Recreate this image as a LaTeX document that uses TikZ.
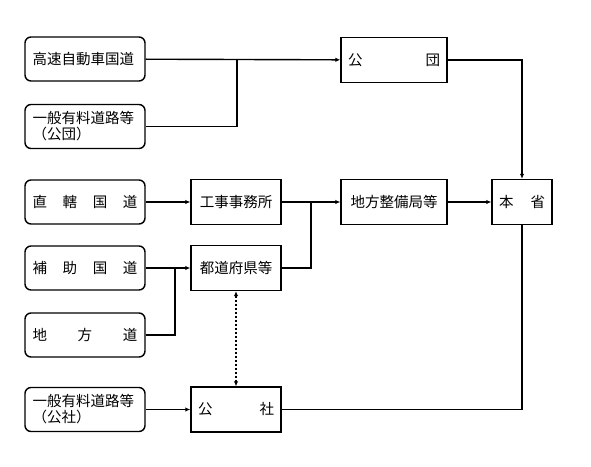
\documentclass[tikz,border=0pt]{standalone}
\usepackage{fontspec}
\setmainfont{Noto Sans CJK JP}
\usetikzlibrary{arrows.meta}

\begin{document}
\begin{tikzpicture}[
  x=1pt, y=-1pt,
  srcbox/.style={draw, line width=1.4pt, rounded corners=6pt,
    minimum height=44pt, text width=105pt, inner xsep=7.5pt, inner ysep=2pt,
    align=left, font=\fontsize{14.5pt}{16pt}\selectfont},
  orgbox/.style={draw, line width=1.4pt, minimum height=45pt,
    inner xsep=7pt, align=center, font=\fontsize{14.5pt}{16pt}\selectfont},
  link/.style={line width=1.4pt},
  arr/.style={link, -{Latex[length=5pt, width=4.5pt]}},
]
  \useasboundingbox (0,0) rectangle (591,466);
  % left column
  \node[srcbox] (hwy)   at (85,59)    {高速自動車国道};
  \node[srcbox] (toll1) at (85,126.5) {一般有料道路等\\（公団）};
  \node[srcbox] (chok)  at (85,202)   {直\hfill 轄\hfill 国\hfill 道};
  \node[srcbox] (hojo)  at (85,268)   {補\hfill 助\hfill 国\hfill 道};
  \node[srcbox] (chiho) at (85,335)   {地\hfill 方\hfill 道};
  \node[srcbox] (toll2) at (85,409.5) {一般有料道路等\\（公社）};
  % middle column
  \node[orgbox, minimum width=90pt] (koji) at (236,202) {工事事務所};
  \node[orgbox, minimum width=90pt] (pref) at (236,268) {都道府県等};
  \node[orgbox, text width=76pt, align=left] (kosha) at (236,409.5) {公\hfill 社};
  % right columns
  \node[orgbox, text width=92pt, align=left] (kodan) at (394,60) {公\hfill 団};
  \node[orgbox, minimum width=106pt] (seibi) at (394,202) {地方整備局等};
  \node[orgbox, text width=46pt, align=left] (honsho) at (522,202) {本\hfill 省};
  % junctions
  \coordinate (j1) at (237,59);
  \coordinate (j2) at (175,268);
  \coordinate (j3) at (311,202);
  % connectors
  \draw[arr] (hwy) -- (kodan);
  \draw[link] (toll1.east) -| (j1);
  \draw[arr] (kodan.east) -| (honsho.north);
  \draw[arr] (chok) -- (koji);
  \draw[arr] (hojo) -- (pref);
  \draw[link] (chiho.east) -| (j2);
  \draw[arr] (koji) -- (seibi);
  \draw[link] (pref.east) -| (j3);
  \draw[arr] (seibi) -- (honsho);
  \draw[arr] (toll2) -- (kosha);
  \draw[link] (kosha.east) -| (honsho.south);
  \draw[link, dash pattern=on 2pt off 2pt, {Latex[length=5pt, width=4.5pt]}-{Latex[length=5pt, width=4.5pt]}] (pref) -- (kosha);
\end{tikzpicture}
\end{document}
